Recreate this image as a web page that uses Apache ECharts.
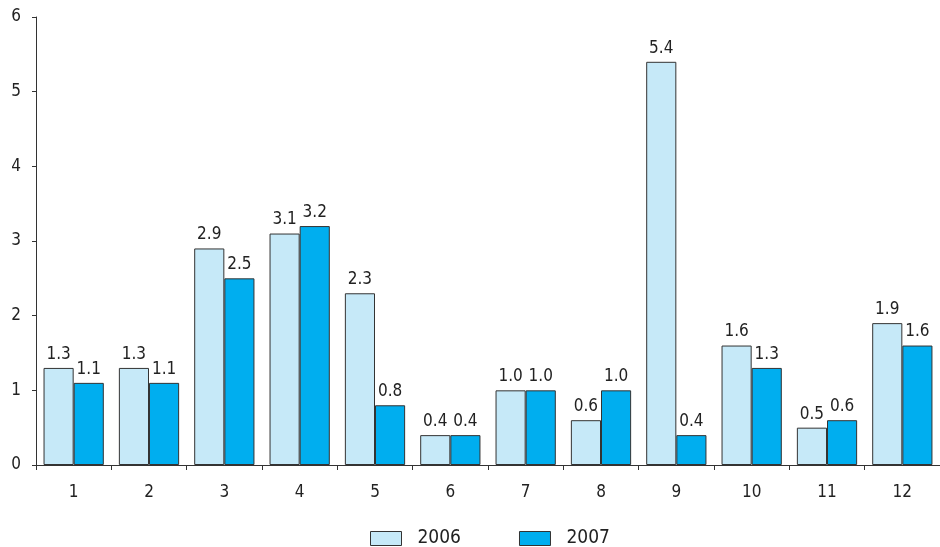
<!DOCTYPE html>
<html><head><meta charset="utf-8">
<script src="https://cdn.jsdelivr.net/npm/echarts@6/dist/echarts.min.js"></script>
<style>html,body{margin:0;padding:0;background:#fff}#c{width:940px;height:547px}</style>
</head><body><div id="c"></div>
<script>
const categories = ['1','2','3','4','5','6','7','8','9','10','11','12'];
const s2006 = [1.3,1.3,2.9,3.1,2.3,0.4,1.0,0.6,5.4,1.6,0.5,1.9];
const s2007 = [1.1,1.1,2.5,3.2,0.8,0.4,1.0,1.0,0.4,1.3,0.6,1.6];
const FONT = '"Liberation Sans Narrow", "DejaVu Sans Condensed", "Liberation Sans", Arial, sans-serif';
const chart = echarts.init(document.getElementById('c'));
const lbl = {show:true, position:'top', distance:5, color:'#222', fontSize:17, fontFamily:FONT, formatter:p=>p.value.toFixed(1)};
chart.setOption({
  animation:false,
  textStyle:{fontFamily:FONT},
  grid:{left:36, right:-4, top:17, bottom:82, containLabel:false},
  legend:{left:370, top:529, padding:0, icon:'rect', itemWidth:31, itemHeight:14, itemGap:58,
    itemStyle:{borderColor:'#333', borderWidth:1},
    textStyle:{fontSize:19, color:'#222', fontFamily:FONT, padding:[0,0,0,11], lineHeight:16},
    data:['2006','2007']},
  xAxis:{type:'category', data:categories,
    axisLine:{lineStyle:{color:'#333', width:1}},
    axisTick:{show:true, alignWithLabel:false, length:5, lineStyle:{color:'#333'}},
    axisLabel:{color:'#222', fontSize:17, fontFamily:FONT, margin:19}},
  yAxis:{type:'value', min:0, max:6, interval:1,
    axisLine:{show:true, lineStyle:{color:'#333', width:1}},
    axisTick:{show:true, length:4, lineStyle:{color:'#333'}},
    splitLine:{show:false},
    axisLabel:{color:'#222', fontSize:17, fontFamily:FONT, margin:15}},
  series:[
    {name:'2006', type:'bar', data:s2006, barGap:'0%', barCategoryGap:'20%',
      itemStyle:{color:'#c6e9f8', borderColor:'#333', borderWidth:1}, label:lbl},
    {name:'2007', type:'bar', data:s2007, barGap:'0%', barCategoryGap:'20%',
      itemStyle:{color:'#00aeef', borderColor:'#333', borderWidth:1}, label:lbl}
  ]
});
</script></body></html>
